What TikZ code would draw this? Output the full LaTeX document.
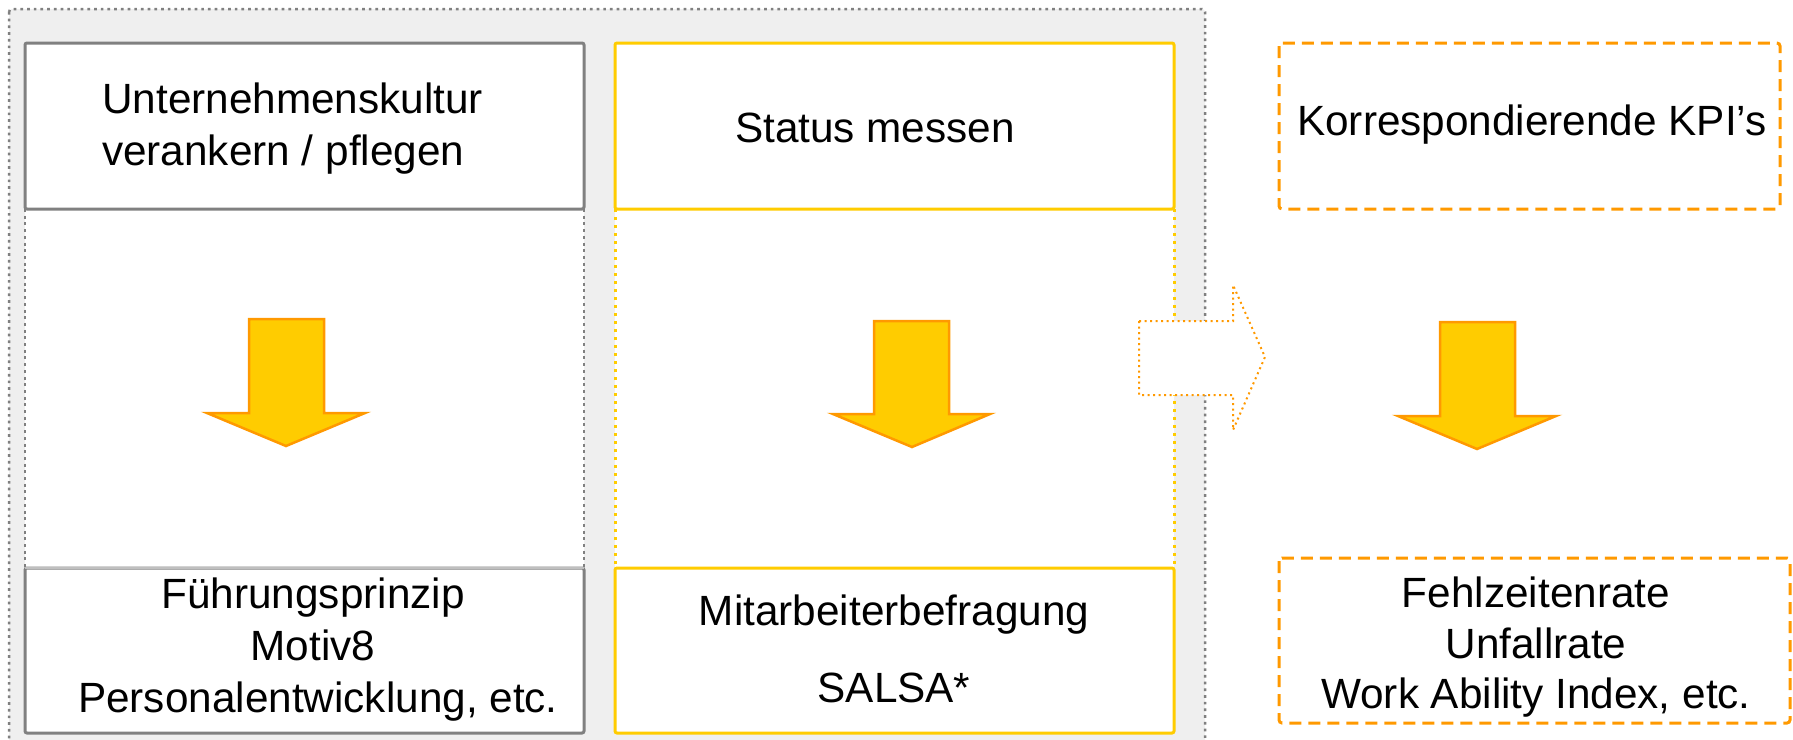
\documentclass[tikz,border=0pt]{standalone}
\usepackage{fontspec}
\setmainfont{Liberation Sans}
\definecolor{framegray}{HTML}{808080}
\definecolor{panelbg}{HTML}{EFEFEF}
\definecolor{gold}{HTML}{FFCC00}
\definecolor{amber}{HTML}{FF9900}
\definecolor{seam}{HTML}{BFBFBF}

\begin{document}
\begin{tikzpicture}[x=1pt,y=-1pt,
  txt/.style={anchor=base, inner sep=0pt, font=\fontsize{42.3}{52}\selectfont},
  graybox/.style={draw=framegray, line width=3pt, fill=white, rounded corners=2pt},
  goldbox/.style={draw=gold, line width=3pt, fill=white, rounded corners=2pt},
  kpibox/.style={draw=amber, line width=3pt, dash pattern=on 12pt off 7pt, rounded corners=3pt},
  graydots/.style={draw=framegray, line width=2pt, dash pattern=on 3pt off 3.7pt},
  golddots/.style={draw=gold, line width=3pt, dash pattern=on 3pt off 5pt},
  downarrow/.style={fill=gold, draw=amber, line width=2.5pt, line join=miter},
]
\useasboundingbox (0,0) rectangle (1793,739);
\clip (0,0) rectangle (1793,739);

% grey panel holding the two left columns
\draw[fill=panelbg, draw=framegray, line width=2.5pt, dash pattern=on 2.7pt off 4pt,
      rounded corners=3pt] (9,9) rectangle (1205,770);

% white column bodies
\fill[white] (25,209) rectangle (584,567);
\fill[white] (615,209) rectangle (1174,567);
\draw[graydots] (25,209) -- (25,567);
\draw[graydots] (584,209) -- (584,567);
\draw[golddots] (615,209) -- (615,567);
\draw[golddots] (1174,209) -- (1174,567);

% column 1
\draw[graybox] (25,43) rectangle (584,209);
\draw[graybox] (25,568) rectangle (584,733);
\draw[seam, line width=1.5pt] (25,568) -- (584,568);

% column 2
\draw[goldbox] (615,43) rectangle (1174,209);
\draw[goldbox] (615,568) rectangle (1174,733);

% column 3
\draw[kpibox] (1279,43) rectangle (1780,209);
\draw[kpibox] (1279,558) rectangle (1790,723);

% downward block arrows
\draw[downarrow] (249,319) -- (324,319) -- (324,413) -- (365,413) -- (286,446)
  -- (207,413) -- (249,413) -- cycle;
\draw[downarrow] (874,321) -- (949,321) -- (949,414) -- (990,414) -- (912,447)
  -- (833,414) -- (874,414) -- cycle;
\draw[downarrow] (1440,322) -- (1515,322) -- (1515,416) -- (1556,416) -- (1477,449)
  -- (1398,416) -- (1440,416) -- cycle;

% hollow arrow leading to the KPI column
\draw[fill=white, draw=amber, line width=2pt, dash pattern=on 2pt off 3.5pt]
  (1139,321) -- (1233,321) -- (1233,285) -- (1265,357) -- (1233,430)
  -- (1233,395) -- (1139,395) -- cycle;

% texts
\node[txt, anchor=base west] (t1a) at (102,113) {Unternehmenskultur};
\node[txt, anchor=base west] (t1b) at (102,165) {verankern / pflegen};
\node[txt] (t2) at (875,142) {Status messen};
\node[txt] (t3) at (1532,135) {Korrespondierende KPI’s};

\node[txt] (b1a) at (313,608) {Führungsprinzip};
\node[txt] (b1b) at (313,660) {Motiv8};
\node[txt] (b1c) at (318,712) {Personalentwicklung, etc.};

\node[txt] (b2a) at (894,625) {Mitarbeiterbefragung};
\node[txt] (b2b) at (894,702) {SALSA*};

\node[txt] (b3a) at (1536,607) {Fehlzeitenrate};
\node[txt] (b3b) at (1536,658) {Unfallrate};
\node[txt] (b3c) at (1536,708) {Work Ability Index, etc.};
\end{tikzpicture}
\end{document}
